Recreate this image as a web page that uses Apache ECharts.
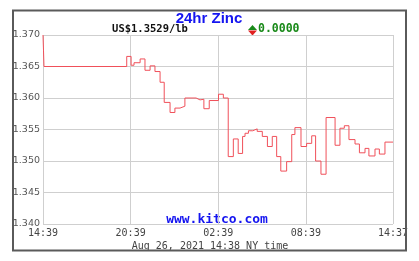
<!DOCTYPE html>
<html>
<head>
<meta charset="utf-8">
<script src="https://cdn.jsdelivr.net/npm/echarts@6/dist/echarts.min.js"></script>
<style>
html,body{margin:0;padding:0;background:#fff;}
#c{width:419px;height:261px;}
</style>
</head>
<body>
<div id="c"></div>
<script>
// Minutes since 14:39 (Aug 25) and zinc price (US$/lb)
var minutes = [0, 2, 4, 344, 362, 374, 399, 419, 440, 460, 481, 498, 522, 542, 563, 583, 629, 645, 661, 683,
  721, 741, 761, 782, 802, 820, 830, 844, 862, 880, 901, 922, 942, 960, 977, 1001, 1022, 1035, 1060, 1083,
  1104, 1120, 1142, 1163, 1200, 1220, 1238, 1257, 1282, 1300, 1323, 1339, 1364, 1382, 1405, 1438];
var prices = [1.3700, 1.3676, 1.3650, 1.3666, 1.3652, 1.3656, 1.3662, 1.3644, 1.3651, 1.3642, 1.3625, 1.3593, 1.3577, 1.3584, 1.3587, 1.3600, 1.3597, 1.3598, 1.3583, 1.3596,
  1.3606, 1.3600, 1.3507, 1.3535, 1.3512, 1.3539, 1.3544, 1.3548, 1.3551, 1.3547, 1.3539, 1.3523, 1.3539, 1.3507, 1.3484, 1.3499, 1.3542, 1.3553, 1.3523, 1.3528,
  1.3540, 1.3500, 1.3479, 1.3569, 1.3525, 1.3552, 1.3556, 1.3534, 1.3527, 1.3513, 1.3520, 1.3508, 1.3519, 1.3511, 1.3530, 1.3530];
var startMinuteOfDay = 14 * 60 + 39;
var yTicks = [1.340, 1.345, 1.350, 1.355, 1.360, 1.365, 1.370];
var titleText = '24hr Zinc';
var priceText = 'US$1.3529/lb';
var changeText = '0.0000';
var siteText = 'www.kitco.com';
var dateText = 'Aug 26, 2021 14:38 NY time';

function clock(v) {
  var m = (startMinuteOfDay + Math.round(v)) % 1440;
  var h = Math.floor(m / 60), mm = m % 60;
  return (h < 10 ? '0' : '') + h + ':' + (mm < 10 ? '0' : '') + mm;
}

var data = minutes.map(function (m, i) { return [m, prices[i]]; });
var mono = '"DejaVu Sans Mono", "Liberation Mono", monospace';

var chart = echarts.init(document.getElementById('c'), null, {renderer: 'canvas'});
chart.setOption({
  animation: false,
  backgroundColor: '#ffffff',
  grid: {left: 43, right: 26, top: 35, bottom: 37, containLabel: false},
  xAxis: {
    type: 'value', min: 0, max: 1438, interval: 360,
    axisLine: {show: false}, axisTick: {show: false},
    splitLine: {show: true, lineStyle: {color: '#cfcfcf', width: 1}},
    axisLabel: {formatter: clock, color: '#444', fontFamily: mono, fontSize: 10, margin: 4, showMaxLabel: true}
  },
  yAxis: {
    type: 'value', min: yTicks[0], max: yTicks[yTicks.length - 1], interval: 0.005,
    axisLine: {show: false}, axisTick: {show: false},
    splitLine: {show: true, lineStyle: {color: '#cfcfcf', width: 1}},
    axisLabel: {formatter: function (v) { return v.toFixed(3); }, color: '#555', fontFamily: '"DejaVu Sans", sans-serif', fontSize: 9.5, margin: 3}
  },
  series: [{
    type: 'line', step: 'end', data: data, symbol: 'none',
    lineStyle: {color: '#f0505a', width: 1}
  }],
  graphic: [
    {type: 'rect', shape: {x: 13, y: 10.5, width: 393, height: 240}, style: {fill: 'none', stroke: '#5a5a5a', lineWidth: 2}, z: 10},
    {type: 'text', x: 209, y: 19, style: {text: titleText, fill: '#1515f0', font: 'bold 15px "Liberation Sans", Arial, sans-serif', textAlign: 'center', textVerticalAlign: 'middle'}},
    {type: 'text', x: 150, y: 29.5, style: {text: priceText, fill: '#111', font: 'bold 10.5px ' + mono, textAlign: 'center', textVerticalAlign: 'middle'}},
    {type: 'polygon', shape: {points: [[248, 30], [252.5, 25], [257, 30]]}, style: {fill: '#1a8a1a'}},
    {type: 'polygon', shape: {points: [[248, 30.5], [252.5, 35.5], [257, 30.5]]}, style: {fill: '#e02020'}},
    {type: 'text', x: 258, y: 29.5, style: {text: changeText, fill: '#1a8a1a', font: 'bold 11.5px ' + mono, textAlign: 'left', textVerticalAlign: 'middle'}},
    {type: 'text', x: 217, y: 220, style: {text: siteText, fill: '#1515f0', font: 'bold 13px ' + mono, textAlign: 'center', textVerticalAlign: 'middle'}},
    {type: 'text', x: 210, y: 246, style: {text: dateText, fill: '#444', font: '10px ' + mono, textAlign: 'center', textVerticalAlign: 'middle'}}
  ]
});
</script>
</body>
</html>
